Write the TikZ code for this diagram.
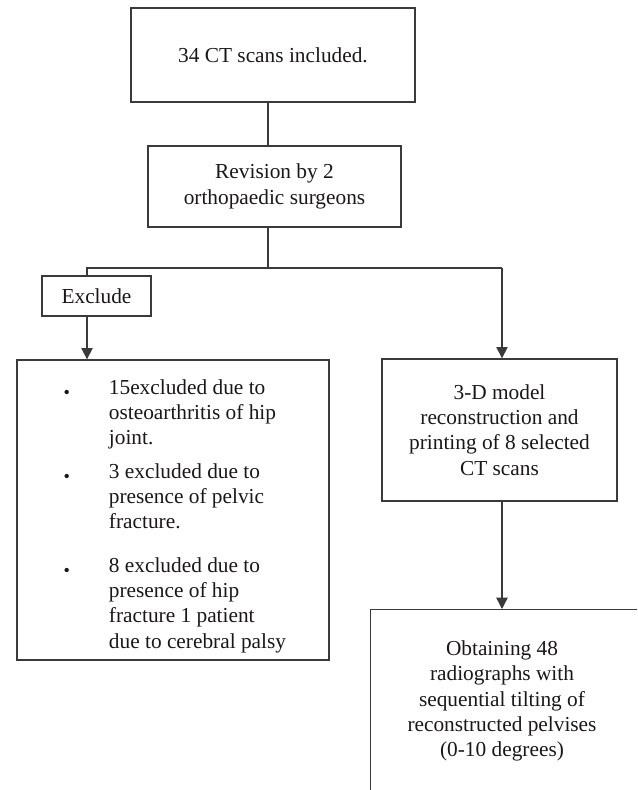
\documentclass[tikz,border=0pt]{standalone}
\usepackage{graphicx}
\usepackage{fontspec}
\setmainfont{Liberation Serif}
\usetikzlibrary{arrows.meta}

\definecolor{linegray}{HTML}{3A3A3A}
\definecolor{inkblack}{HTML}{1A1718}
\newcommand{\listdot}{\hspace*{1pt}\raisebox{-0.2em}{\scalebox{0.85}{\textbullet}}}

\begin{document}
\begin{tikzpicture}[x=0.75pt,y=-0.75pt,>={Triangle[length=8.5pt,width=8.5pt]},
    box/.style={draw=linegray, line width=1pt, inner sep=0pt, align=center,
        text=inkblack, font=\fontsize{16}{19}\selectfont},
    txt/.style={inner sep=0pt, text=inkblack, font=\fontsize{16}{19}\selectfont},
    link/.style={draw=linegray, line width=1pt}]
    \useasboundingbox (0,0) rectangle (637,790);
    \clip (0,0) rectangle (637,790);

    \node[box, minimum width=213pt, minimum height=70.5pt] (scans) at (273,55) {34 CT scans included.};
    \node[box, minimum width=189.75pt, minimum height=60.75pt] (revision) at (274.5,186.5) {Revision by 2\\orthopaedic surgeons};
    \node[box, minimum width=81.75pt, minimum height=30pt] (exclude) at (96.5,296) {Exclude};
    \node[box, minimum width=234pt, minimum height=225pt] (reasons) at (173,510) {};
    \node[txt, anchor=north west] (reasonlist) at (62,376) {%
        \begin{tabular}{@{}p{35pt}@{}l@{}}
            \listdot & 15excluded due to\\
                     & osteoarthritis of hip\\
                     & joint.\\[6pt]
            \listdot & 3 excluded due to\\
                     & presence of pelvic\\
                     & fracture.\\[13.5pt]
            \listdot & 8 excluded due to\\
                     & presence of hip\\
                     & fracture 1 patient\\
                     & due to cerebral palsy
        \end{tabular}};
    \node[box, minimum width=176.25pt, minimum height=106.5pt] (model) at (499.5,430) {3-D model\\reconstruction and\\printing of 8 selected\\CT scans};
    \node[box, anchor=north west, minimum width=220pt, minimum height=150pt] (outcome) at (370,609) {};
    \node[txt, align=center] (outcometext) at (502,701) {Obtaining 48\\radiographs with\\sequential tilting of\\reconstructed pelvises\\(0-10 degrees)};

    \coordinate (trunk) at (268,268);
    \coordinate (forkl) at (87,268);
    \coordinate (forkr) at (502,268);

    \path[link] (scans.south -| trunk) -- (revision.north -| trunk);
    \path[link] (revision.south -| trunk) -- (trunk);
    \path[link] (exclude.north -| forkl) -- (forkl) -- (forkr);
    \path[link, ->] (forkr) -- (model.north -| forkr);
    \path[link, ->] (exclude.south -| forkl) -- (reasons.north -| forkl);
    \path[link, ->] (model.south -| forkr) -- (outcome.north -| forkr);
\end{tikzpicture}
\end{document}
